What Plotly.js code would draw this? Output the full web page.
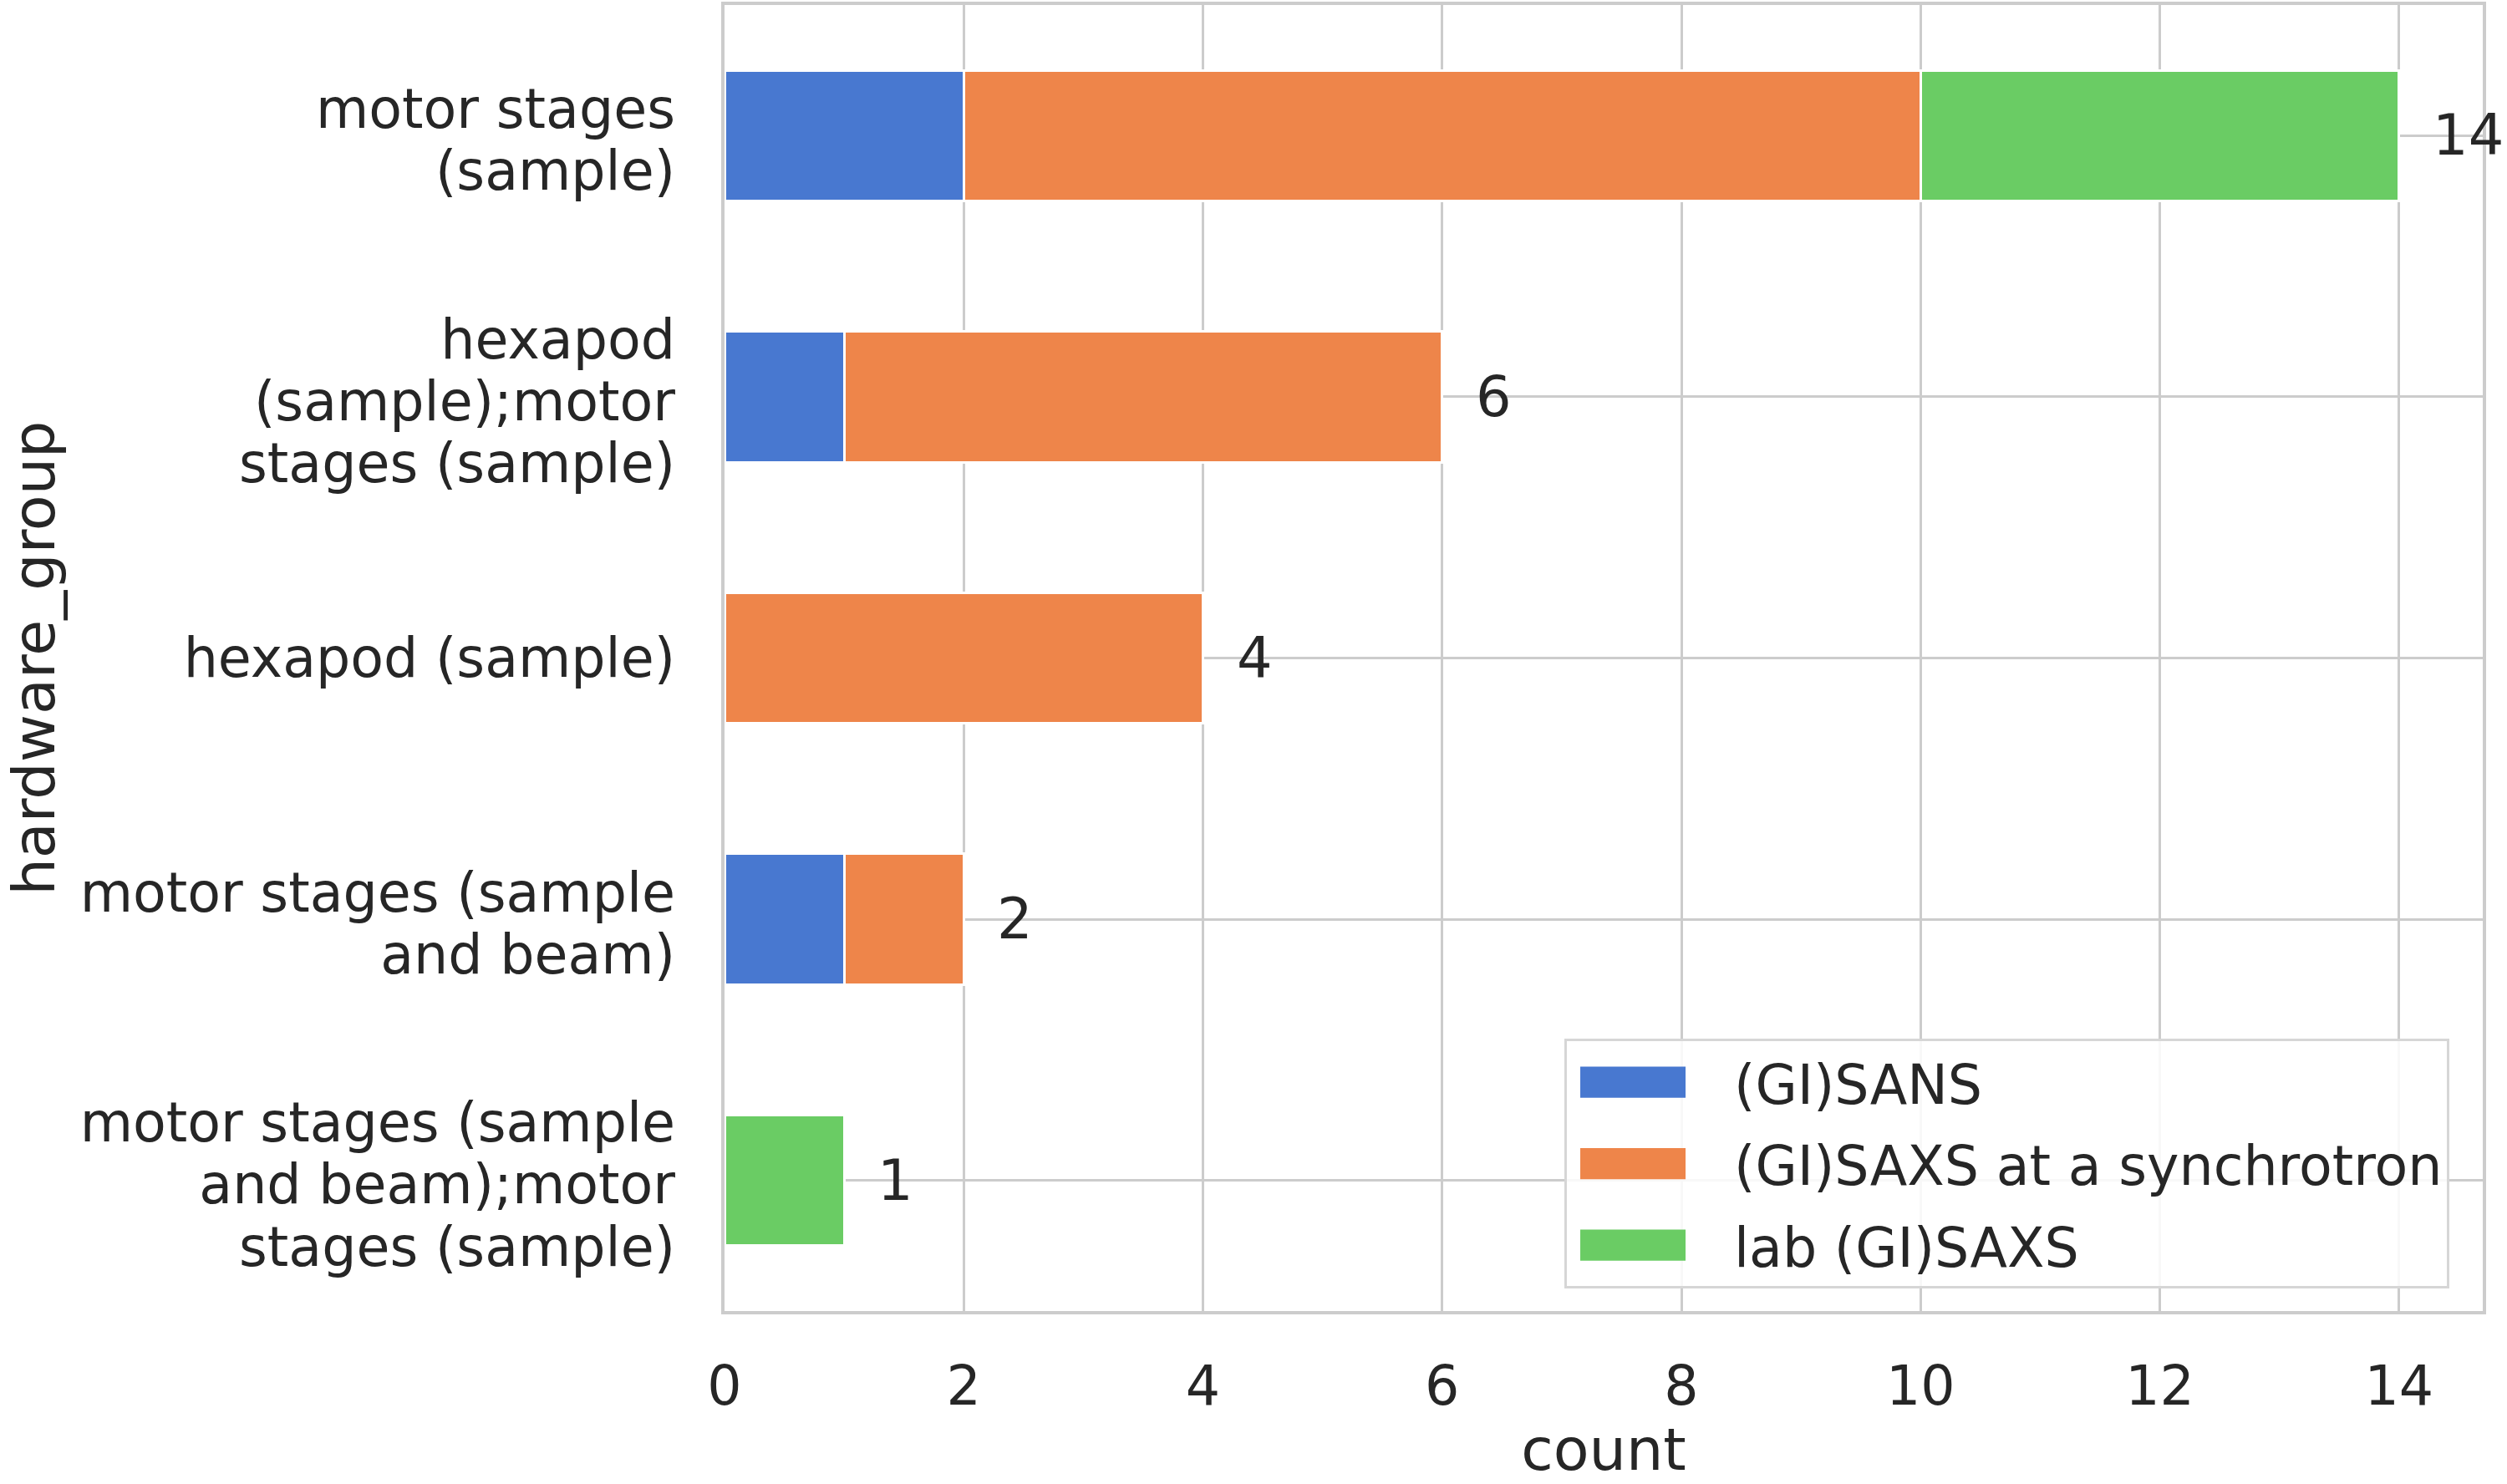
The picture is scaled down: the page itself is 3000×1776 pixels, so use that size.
<!DOCTYPE html>
<html>
<head>
<meta charset="utf-8">
<script src="https://cdn.plot.ly/plotly-3.0.1.min.js"></script>
<style>
  html, body { margin: 0; padding: 0; background: #fff; }
  #chart { width: 3000px; height: 1776px; }
  /* wider, flatter legend swatches like the reference */
  #chart .legend .legendpoints path {
    transform: translate(79px, 0px) scale(10.5, 3.1);
    stroke-width: 0 !important;
  }
</style>
</head>
<body>
<div id="chart"></div>
<script>
// hardware groups, top to bottom
var categories = [
  'motor stages<br>(sample)',
  'hexapod<br>(sample);motor<br>stages (sample)',
  'hexapod (sample)',
  'motor stages (sample<br>and beam)',
  'motor stages (sample<br>and beam);motor<br>stages (sample)'
];

var sans = [2, 1, 0, 1, 0];
var saxsSynchrotron = [8, 5, 4, 1, 0];
var labSaxs = [4, 0, 0, 0, 1];

var seriesNames = ['(GI)SANS', '(GI)SAXS at a synchrotron', 'lab (GI)SAXS'];
var seriesColors = ['#4878d0', '#ee854a', '#6acc64'];
var xTicks = [0, 2, 4, 6, 8, 10, 12, 14];

var font = 'DejaVu Sans, sans-serif';
var textColor = '#262626';
var gridColor = '#cccccc';

var traces = [sans, saxsSynchrotron, labSaxs].map(function (vals, i) {
  return {
    type: 'bar',
    orientation: 'h',
    name: seriesNames[i],
    legendgroup: 'g' + i,
    x: vals,
    y: categories,
    width: 0.5,
    marker: { color: seriesColors[i], line: { color: '#ffffff', width: 3 } },
    hoverinfo: 'skip'
  };
});

// totals written past the end of each stacked bar
var totals = categories.map(function (c, i) {
  return sans[i] + saxsSynchrotron[i] + labSaxs[i];
});
var annotations = totals.map(function (t, i) {
  return {
    x: t, y: categories[i], xref: 'x', yref: 'y',
    text: String(t), showarrow: false,
    xanchor: 'left', yanchor: 'middle', xshift: 38,
    font: { family: font, size: 67, color: textColor }
  };
});

var layout = {
  width: 3000,
  height: 1776,
  margin: { l: 867, r: 29, t: 6, b: 207, pad: 0 },
  paper_bgcolor: '#ffffff',
  plot_bgcolor: '#ffffff',
  font: { family: font, size: 65, color: textColor },
  barmode: 'stack',
  showlegend: true,
  legend: {
    x: 0.981, y: 0.017, xanchor: 'right', yanchor: 'bottom',
    bgcolor: 'rgba(255,255,255,0.85)',
    bordercolor: '#d6d6d6', borderwidth: 3,
    font: { family: font, size: 65, color: textColor },
    itemwidth: 190,
    tracegroupgap: 10,
    traceorder: 'grouped'
  },
  xaxis: {
    range: [0, 14.7],
    tickvals: xTicks,
    ticktext: xTicks.map(String),
    showgrid: true, gridcolor: gridColor, gridwidth: 3,
    zeroline: false,
    showline: true, linecolor: gridColor, linewidth: 4, mirror: true,
    ticks: '',
    ticklabelstandoff: 30,
    tickfont: { family: font, size: 65, color: textColor },
    automargin: false,
    title: { text: 'count', standoff: 30, font: { family: font, size: 70, color: textColor } }
  },
  yaxis: {
    type: 'category',
    categoryorder: 'array',
    categoryarray: categories,
    range: [4.5, -0.5],
    showgrid: true, gridcolor: gridColor, gridwidth: 3,
    zeroline: false,
    showline: true, linecolor: gridColor, linewidth: 4, mirror: true,
    ticks: '',
    ticklabelstandoff: 42,
    tickfont: { family: font, size: 65, color: textColor },
    automargin: false,
    title: { text: 'hardware_group', standoff: 30, font: { family: font, size: 70, color: textColor } }
  },
  annotations: annotations
};

Plotly.newPlot('chart', traces, layout, { staticPlot: true }).then(function (gd) {
  // tighten the line spacing of the wrapped category labels, keeping them centred
  gd.querySelectorAll('.ytick text').forEach(function (t) {
    var lines = t.querySelectorAll('tspan.line');
    if (lines.length < 2) return;
    var before = t.getBBox();
    lines.forEach(function (l) {
      var dy = l.getAttribute('dy');
      if (dy && dy.indexOf('em') > 0) {
        l.setAttribute('dy', (parseFloat(dy) * 1.14 / 1.3) + 'em');
      }
    });
    var after = t.getBBox();
    var delta = (before.y + before.height / 2) - (after.y + after.height / 2) + 5;
    var tr = t.getAttribute('transform') || '';
    t.setAttribute('transform', tr + ' translate(0,' + delta + ')');
  });
});
</script>
</body>
</html>
